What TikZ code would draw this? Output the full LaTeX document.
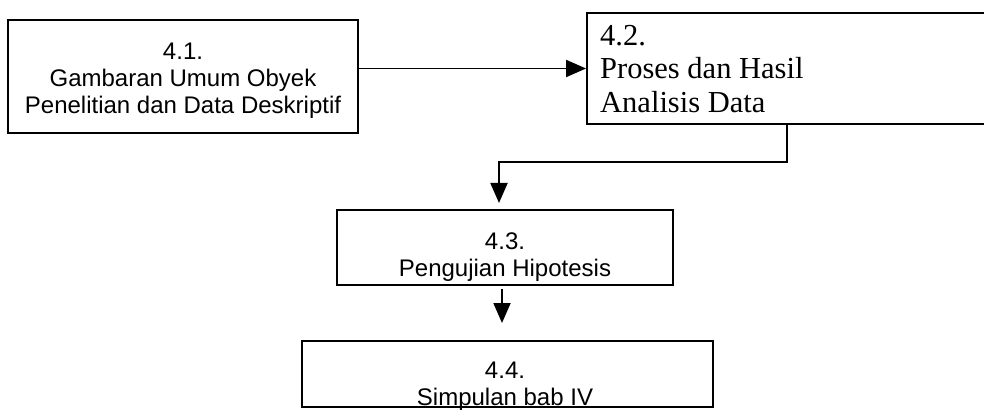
\documentclass[tikz,border=0pt]{standalone}
\usepackage{fontspec}
\setmainfont{Liberation Sans}
\newfontfamily\serifface{Liberation Serif}
\usetikzlibrary{arrows.meta}

\tikzset{
  stepbox/.style={draw=black, line width=1.9pt, rectangle, inner sep=0pt},
  sanslabel/.style={inner sep=0pt, align=center, anchor=north,
    font=\fontsize{24}{27}\selectfont},
  seriflabel/.style={inner sep=0pt, align=left, anchor=north west,
    font=\serifface\fontsize{30.5}{33.5}\selectfont},
  flow/.style={line width=1.9pt, -{Triangle[length=20pt,width=17pt]}},
}

\begin{document}
\begin{tikzpicture}[x=1pt,y=-1pt]
  \useasboundingbox (0,0) rectangle (984,411);
  \clip (0,0) rectangle (984,411);

  % boxes
  \node[stepbox, minimum width=350pt, minimum height=113pt] (b1) at (183,76.5) {};
  \node[stepbox, minimum width=413pt, minimum height=111pt] (b2) at (793.5,68.5) {};
  \node[stepbox, minimum width=336pt, minimum height=75pt]  (b3) at (505,247.5) {};
  \node[stepbox, minimum width=411pt, minimum height=66pt]  (b4) at (507.5,374) {};

  % labels
  \node[sanslabel] (t1) at (183,43) {4.1.\\Gambaran Umum Obyek\\Penelitian dan Data Deskriptif};
  \node[seriflabel] (t2) at (600,25) {4.2.\\Proses dan Hasil\\Analisis Data};
  \node[sanslabel] (t3) at (505,233) {4.3.\\Pengujian Hipotesis};
  \node[sanslabel] (t4) at (505,362) {4.4.\\Simpulan bab IV};

  % connector end points
  \coordinate (c2) at (787,162);
  \coordinate (e3) at (499,203);
  \coordinate (s4) at (502,289);
  \coordinate (e4) at (502,323);

  % connectors
  \draw[flow] (b1.east |- b2.west) -- (b2.west);
  \draw[flow] (b2.south -| c2) -- (c2) -| (e3);
  \draw[flow] (s4) -- (e4);
\end{tikzpicture}
\end{document}
